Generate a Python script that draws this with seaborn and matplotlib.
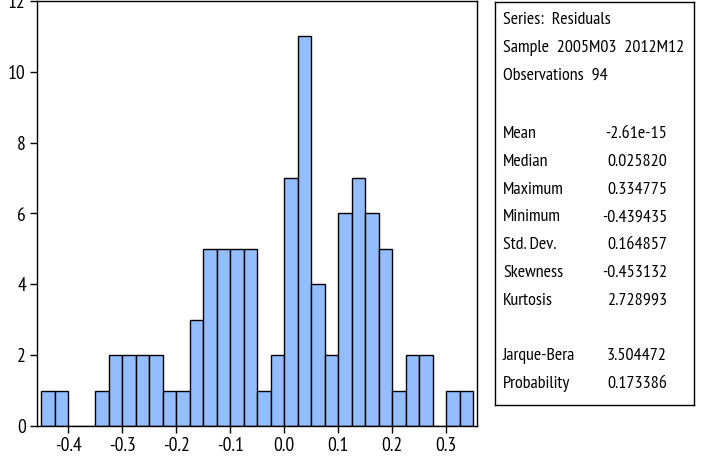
import numpy as np
import pandas as pd
import matplotlib
matplotlib.use("Agg")
import matplotlib.pyplot as plt
from matplotlib import font_manager
from matplotlib.ticker import MultipleLocator
import seaborn as sns

# Histogram of regression residuals (bin width 0.025)
bin_width = 0.025
bin_start = -0.45
counts = [1, 1, 0, 0, 1, 2, 2, 2, 2, 1, 1, 3, 5, 5, 5, 5,
          1, 2, 7, 11, 4, 2, 6, 7, 6, 5, 1, 2, 2, 0, 1, 1]
x_ticks = [-0.4, -0.3, -0.2, -0.1, 0.0, 0.1, 0.2, 0.3]
x_tick_labels = ["-0.4", "-0.3", "-0.2", "-0.1", "0.0", "0.1", "0.2", "0.3"]
y_ticks = [0, 2, 4, 6, 8, 10, 12]

# Summary statistics panel
header_lines = ["Series:  Residuals", "Sample  2005M03  2012M12", "Observations  94"]
stat_names = ["Mean", "Median", "Maximum", "Minimum", "Std. Dev.", "Skewness", "Kurtosis"]
stat_values = ["-2.61e-15", "0.025820", "0.334775", "-0.439435", "0.164857", "-0.453132", "2.728993"]
test_names = ["Jarque-Bera", "Probability"]
test_values = ["3.504472", "0.173386"]

sns.set_style("white")

# pick a narrow sans-serif face if one is available
installed = {f.name for f in font_manager.fontManager.ttflist}
candidates = ["Liberation Sans Narrow", "Arial Narrow", "Nimbus Sans Narrow",
              "PT Sans Narrow", "Roboto Condensed", "Archivo Narrow",
              "Fira Sans Condensed", "Encode Sans Condensed", "Barlow Semi Condensed"]
narrow = [c for c in candidates if c in installed][:1]
plt.rcParams["font.family"] = narrow + ["Liberation Sans", "DejaVu Sans"]
plt.rcParams["axes.unicode_minus"] = False
plt.rcParams["text.color"] = "black"
plt.rcParams["xtick.color"] = "black"
plt.rcParams["ytick.color"] = "black"

n_bins = len(counts)
centers = bin_start + bin_width * (np.arange(n_bins) + 0.5)
df = pd.DataFrame({"residual": centers, "count": counts})

fig = plt.figure(figsize=(7.01, 4.61), dpi=100)
ax = fig.add_axes([37 / 701, 35 / 461, 440 / 701, 425 / 461])

sns.histplot(data=df, x="residual", weights="count", binwidth=bin_width,
             binrange=(bin_start, bin_start + bin_width * n_bins), ax=ax,
             color="#94BDFF", alpha=1.0, edgecolor="black", linewidth=1.0)

ax.set_xlim(-0.4575, 0.357)
ax.set_ylim(0, 12)
ax.set_xticks(x_ticks)
ax.set_xticklabels(x_tick_labels)
ax.set_yticks(y_ticks)
ax.xaxis.set_minor_locator(MultipleLocator(bin_width))
ax.set_xlabel("")
ax.set_ylabel("")
ax.tick_params(axis="both", which="major", direction="out", length=5, width=1,
               color="black", labelcolor="black", labelsize=14, pad=3)
ax.tick_params(axis="x", which="minor", direction="out", length=3, width=1, color="#444444")
ax.tick_params(left=True, bottom=True)
for sp in ax.spines.values():
    sp.set_visible(True)
    sp.set_color("black")
    sp.set_linewidth(1.0)

# Statistics box
box = fig.add_axes([495 / 701, 56 / 461, 199 / 701, 403 / 461])
box.set_xticks([])
box.set_yticks([])
for sp in box.spines.values():
    sp.set_visible(True)
    sp.set_color("black")
    sp.set_linewidth(1.0)

def fy(py):
    return 1 - py / 461

fs = 13
xl = 503 / 701
xr = 667 / 701
for i, line in enumerate(header_lines):
    fig.text(xl, fy(20 + 28 * i), line, fontsize=fs, va="center", ha="left")
for i, (name, val) in enumerate(zip(stat_names, stat_values)):
    y = fy(134 + 27.8 * i)
    fig.text(xl, y, name, fontsize=fs, va="center", ha="left")
    fig.text(xr, y, val, fontsize=fs, va="center", ha="right")
for i, (name, val) in enumerate(zip(test_names, test_values)):
    y = fy(356 + 27.5 * i)
    fig.text(xl, y, name, fontsize=fs, va="center", ha="left")
    fig.text(xr, y, val, fontsize=fs, va="center", ha="right")

fig.savefig("out.png", dpi=100)
